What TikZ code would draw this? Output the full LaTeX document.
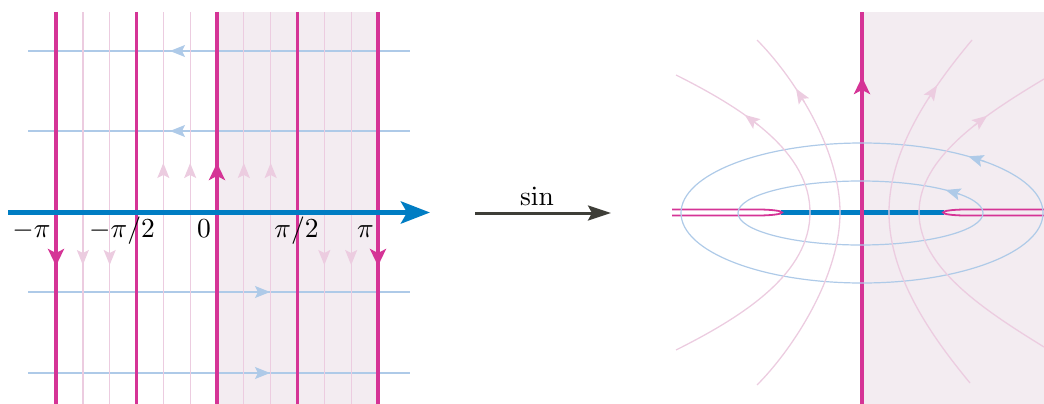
\documentclass[tikz,border=0pt]{standalone}
\usetikzlibrary{arrows.meta}
\definecolor{mag}{RGB}{213,52,150}
\definecolor{lpink}{RGB}{236,204,224}
\definecolor{lblue}{RGB}{174,202,232}
\definecolor{axblue}{RGB}{0,125,195}
\definecolor{shadec}{RGB}{243,236,241}
\definecolor{dgray}{RGB}{62,62,56}
\tikzset{
  thickmag/.style={draw=mag, line width=4.3pt},
  medmag/.style={draw=mag, line width=2.2pt},
  lightpink/.style={draw=lpink, line width=1.3pt},
  lightblue/.style={draw=lblue, line width=1.2pt},
  magtip/.style={-{Stealth[length=17pt,width=16pt,inset=4pt]}},
  lighttip/.style={-{Stealth[length=15pt,width=12pt,inset=3pt]}},
  lbl/.style={scale=2.75, inner sep=0pt, anchor=base},
}
\begin{document}
\begin{tikzpicture}[x=1pt,y=-1pt]
\useasboundingbox (0,0) rectangle (1044,404);
% ---------- left panel ----------
\fill[shadec] (217,12) rectangle (378,404);
\foreach \y in {51,131,292,373} \draw[lightblue] (28,\y) -- (410,\y);
\draw[lightblue, lighttip] (192,51) -- (170,51);
\draw[lightblue, lighttip] (192,131) -- (170,131);
\draw[lightblue, lighttip] (248,292) -- (270,292);
\draw[lightblue, lighttip] (248,373) -- (270,373);
\foreach \k in {-5,-4,-2,-1,1,2,4,5} \draw[lightpink] ({217+\k*26.83},12) -- ({217+\k*26.83},404);
\foreach \k in {-2,-1,1,2} \draw[lightpink, lighttip] ({217+\k*26.83},185) -- ({217+\k*26.83},163);
\foreach \k in {-5,-4,4,5} \draw[lightpink, lighttip] ({217+\k*26.83},240) -- ({217+\k*26.83},265);
\foreach \k in {-3,3} \draw[medmag] ({217+\k*26.83},12) -- ({217+\k*26.83},404);
\foreach \k in {-6,0,6} \draw[thickmag] ({217+\k*26.83},12) -- ({217+\k*26.83},404);
\draw[thickmag, magtip] (217,190) -- (217,163);
\draw[thickmag, magtip] (56,238) -- (56,266);
\draw[thickmag, magtip] (378,238) -- (378,266);
\coordinate (axL) at (8,212.5);
\coordinate (axR) at (430,212.5);
\draw[axblue, line width=5pt, -{Stealth[length=29pt,width=22pt,inset=6pt]}] (axL) -- (axR);
\node[lbl] (lmpi) at (31.5,237) {$-\pi$};
\node[lbl] (lmpih) at (122,237) {$-\pi/2$};
\node[lbl] (lzero) at (204,237) {$0$};
\node[lbl] (lpih) at (296.5,237) {$\pi/2$};
\node[lbl] (lpi) at (365.5,237) {$\pi$};
% ---------- map arrow ----------
\coordinate (mapA) at (475,213);
\coordinate (mapB) at (611,213);
\draw[dgray, line width=3pt, -{Stealth[length=23pt,width=15pt,inset=4pt]}] (mapA) -- (mapB);
\node[lbl] (sinlbl) at (537,205) {$\sin$};
% ---------- right panel ----------
\fill[shadec] (862,12) rectangle (1044,404);
\draw[axblue, line width=5pt] (781,212.5) -- (944,212.5);
\draw[thickmag] (862,404) -- (862,12);
\draw[thickmag, magtip] (862,100) -- (862,77);
\draw[mag, line width=1.8pt] (672,209.5) -- (758,209.5) .. controls (772,209.5) and (782,211) .. (782,212.5) .. controls (782,214) and (772,215.5) .. (758,215.5) -- (672,215.5);
\draw[mag, line width=1.8pt] (1044,209.5) -- (966,209.5) .. controls (952,209.5) and (943,211) .. (943,212.5) .. controls (943,214) and (952,215.5) .. (966,215.5) -- (1044,215.5);
% ellipses
\draw[lightblue] (862,213) ellipse [x radius=181, y radius=70];
\draw[lightblue] (860.5,213) ellipse [x radius=122.5, y radius=32];
\draw[lightblue, lighttip] ({862+181*cos(47)},{213-70*sin(47)}) -- ({862+181*cos(54)},{213-70*sin(54)});
\draw[lightblue, lighttip] ({860.5+122.5*cos(36)},{213-32*sin(36)}) -- ({860.5+122.5*cos(46)},{213-32*sin(46)});
% hyperbola-like curves
\draw[lightpink] (676,350) .. controls (746,315) and (810,272.5) .. (810,212.5) .. controls (810,152.5) and (746,110) .. (676,75);
\draw[lightpink] (757,385) .. controls (792,350) and (840,277.5) .. (840,212.5) .. controls (840,147.5) and (792,75) .. (757,40);
\draw[lightpink] (970,383) .. controls (933.6,338.8) and (889,277.5) .. (889,212.5) .. controls (889,147.5) and (933.6,86.2) .. (972,40);
\draw[lightpink] (1044,347) .. controls (984,310) and (919,267.5) .. (919,212.5) .. controls (919,157.5) and (984,115) .. (1044,79);
\draw[lightpink, lighttip] (758.3,125.1) -- (744.8,114.9);
\draw[lightpink, lighttip] (804.5,102.3) -- (796,88.6);
\draw[lightpink, lighttip] (928.4,98.6) -- (937.1,85.4);
\draw[lightpink, lighttip] (974.1,125.7) -- (987.1,115.8);
\end{tikzpicture}
\end{document}
